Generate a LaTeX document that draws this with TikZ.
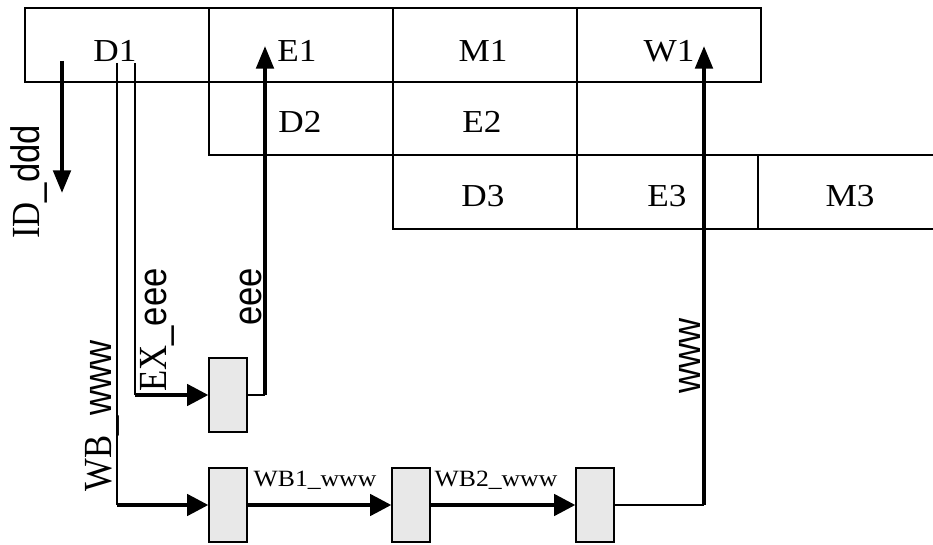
\documentclass[tikz,border=0pt]{standalone}
\usepackage{graphicx}
\usepackage{fontspec}
\setmainfont{Liberation Serif}
\newfontfamily\lsans{Liberation Sans}
\usetikzlibrary{arrows.meta}
\definecolor{latchgray}{HTML}{E8E8E8}
\newcommand{\hstr}[1]{\scalebox{1.1}[1]{#1}}
\newcommand{\vstr}[1]{\scalebox{1}[1.15]{#1}}
\begin{document}
\begin{tikzpicture}[x=0.75pt,y=-0.75pt,
  tline/.style={line width=1.5pt},
  thinline/.style={line width=1.5pt},
  thickline/.style={line width=3pt},
  harrow/.style={thickline,-{Triangle[length=16pt,width=16pt]}},
  varrow/.style={thickline,-{Triangle[length=17pt,width=13pt]}},
  cell/.style={anchor=base,inner sep=0pt,font=\fontsize{24}{28}\selectfont},
  vlabel/.style={rotate=90,anchor=center,inner sep=0pt,font=\fontsize{26}{30}\selectfont},
  slabel/.style={anchor=base,inner sep=0pt,font=\fontsize{17.5}{20}\selectfont},
  latch/.style={draw,line width=1.5pt,fill=latchgray,minimum width=28pt,minimum height=55.5pt,inner sep=0pt}
]
\useasboundingbox (0,0) rectangle (933,545);

% pipeline table
\draw[tline] (25,8) rectangle (761,82);
\draw[tline] (209,8) -- (209,155) -- (933,155);
\draw[tline] (393,8) -- (393,229) -- (933,229);
\draw[tline] (577,8) -- (577,229);
\draw[tline] (758,155) -- (758,229);

\node[cell] (d1) at (115,62) {\hstr{D1}};
\node[cell] (e1) at (297,62) {\hstr{E1}};
\node[cell] (m1) at (483,62) {\hstr{M1}};
\node[cell] (w1) at (669,62) {\hstr{W1}};
\node[cell] (d2) at (300,133) {\hstr{D2}};
\node[cell] (e2) at (482,133) {\hstr{E2}};
\node[cell] (d3) at (483,207) {\hstr{D3}};
\node[cell] (e3) at (667,207) {\hstr{E3}};
\node[cell] (m3) at (850,207) {\hstr{M3}};

% latches
\node[latch] (L1) at (228,395) {};
\node[latch] (L2) at (228,505) {};
\node[latch] (L3) at (411,505) {};
\node[latch] (L4) at (595,505) {};

% connector end points
\coordinate (idsrc) at (62,61);
\coordinate (iddst) at (62,193);
\coordinate (wbsrc) at (117,63);
\coordinate (wbcorner) at (117,505);
\coordinate (exsrc) at (135,63);
\coordinate (excorner) at (135,395);
\coordinate (eeecorner) at (265,395);
\coordinate (e1in) at (265,46);
\coordinate (wwwcorner) at (704,505);
\coordinate (w1in) at (704,46);

% connectors
\draw[varrow] (idsrc) -- (iddst);
\draw[thinline] (wbsrc) -- (wbcorner);
\draw[harrow] (wbcorner) -- (L2.west);
\draw[thinline] (exsrc) -- (excorner);
\draw[harrow] (excorner) -- (L1.west);
\draw[thinline] (L1.east) -- (eeecorner);
\draw[varrow] (eeecorner) -- (e1in);
\draw[harrow] (L2.east) -- (L3.west);
\draw[harrow] (L3.east) -- (L4.west);
\draw[thinline] (L4.east) -- (wwwcorner);
\draw[varrow] (wwwcorner) -- (w1in);

% labels
\node[vlabel] (idlab) at (29,182) {\vstr{ID\lsans\_ddd}};
\node[vlabel] (exlab) at (157,330) {\vstr{EX\lsans\_eee}};
\node[vlabel] (eeelab) at (251,297) {\vstr{\lsans eee}};
\node[vlabel] (wblab) at (102,416) {\vstr{WB\lsans\_www}};
\node[vlabel] (wwwlab) at (690,356) {\vstr{\lsans www}};
\node[slabel] (wb1lab) at (315,487) {\hstr{WB1\_www}};
\node[slabel] (wb2lab) at (496,487) {\hstr{WB2\_www}};
\end{tikzpicture}
\end{document}
